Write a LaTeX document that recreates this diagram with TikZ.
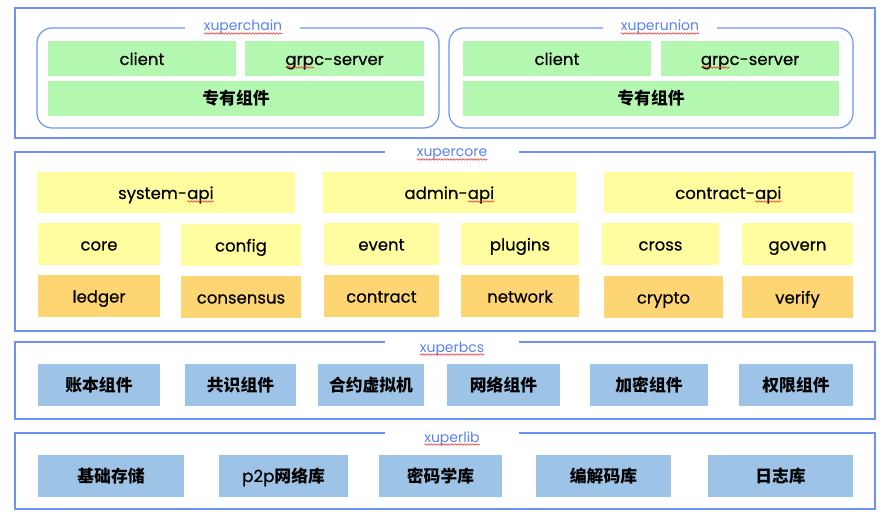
\documentclass[tikz,border=0pt]{standalone}
\usepackage{fontspec}
\setmainfont{Poppins}
\newfontfamily\boxfont{Poppins}[FakeBold=0.5]
\newfontfamily\cjk{Noto Sans CJK SC}
\usetikzlibrary{decorations.pathmorphing}
\definecolor{frameblue}{HTML}{6C92F2}
\definecolor{titleblue}{HTML}{5A82EE}
\definecolor{gfill}{HTML}{B4F7B0}
\definecolor{yfill}{HTML}{FFFD9F}
\definecolor{ofill}{HTML}{FDD673}
\definecolor{bfill}{HTML}{9DC3E6}
\definecolor{squig}{HTML}{E8302A}
\tikzset{
  blkbase/.style={inner sep=0pt,outer sep=0pt,draw=none,text=black,text height=13pt,text depth=0pt,font=\boxfont\fontsize{16.5}{18}\selectfont},
  gbox/.style={blkbase,fill=gfill},
  ybox/.style={blkbase,fill=yfill},
  obox/.style={blkbase,fill=ofill},
  bbox/.style={blkbase,fill=bfill,text height=13.5pt,text depth=1.5pt,font=\cjk\bfseries\fontsize{16.8}{18}\selectfont},
  gcjk/.style={gbox,text height=13.5pt,text depth=1.5pt,font=\cjk\bfseries\fontsize{16.8}{18}\selectfont},
  framel/.style={draw=frameblue,line width=2pt},
  roundl/.style={draw=frameblue,line width=1.2pt,rounded corners=15pt},
  ttl/.style={anchor=base,inner sep=0pt,text=titleblue,font=\fontsize{14}{16}\selectfont},
  sqline/.style={draw=squig,line width=0.55pt,decorate,decoration={snake,amplitude=0.8pt,segment length=3pt}},
  sqtext/.style={inner sep=0pt,outer sep=0pt,draw=none,fill=none,minimum width=0pt,minimum height=0pt,text height=,text depth=}
}
\newcommand\blk[7]{\node[#6,minimum width={(#4-#2)*1pt},minimum height={(#5-#3)*1pt}] (#1) at ({(#2+#4)/2},{(#3+#5)/2}) {#7};}
\newcommand\sq[1]{\tikz[baseline=(sqt.base)]{\node[sqtext] (sqt) {#1};\path[sqline] ([yshift=-2.5pt]sqt.base west) -- ([yshift=-2.5pt]sqt.base east);}}
\begin{document}
\begin{tikzpicture}[x=1pt,y=-1pt]
\useasboundingbox (0,0) rectangle (887,516);
% frames
\path[framel] (875,8) rectangle (15,138);
\path[framel] (519,152) -- (875,152) -- (875,331) -- (15,331) -- (15,152) -- (385,152);
\path[framel] (519,342) -- (875,342) -- (875,419) -- (15,419) -- (15,342) -- (385,342);
\path[framel] (519,433) -- (875,433) -- (875,509) -- (15,509) -- (15,433) -- (385,433);
\path[roundl] (300,28) -- (439,28) -- (439,128) -- (37,128) -- (37,28) -- (185,28);
\path[roundl] (717,28) -- (853,28) -- (853,128) -- (449,128) -- (449,28) -- (603,28);
% titles
\node[ttl] (tchain) at (243,31) {\sq{xuperchain}};
\node[ttl] (tunion) at (660,31) {\sq{xuperunion}};
\node[ttl] (tcore) at (452,157) {\sq{xupercore}};
\node[ttl] (tbcs) at (452,352) {\sq{xuperbcs}};
\node[ttl] (tlib) at (452,442) {\sq{xuperlib}};
% xuperchain
\blk{c1}{48}{41}{236}{76}{gbox}{client}
\blk{c2}{245}{41}{424}{76}{gbox}{\sq{grp}c-server}
\blk{c3}{48}{81}{424}{116}{gcjk}{专有组件}
% xuperunion
\blk{u1}{463}{41}{651}{76}{gbox}{client}
\blk{u2}{661}{41}{839}{76}{gbox}{\sq{grp}c-server}
\blk{u3}{463}{81}{839}{116}{gcjk}{专有组件}
% xupercore
\blk{sysapi}{37}{172}{295}{213}{ybox}{system-\sq{api}}
\blk{admapi}{323}{172}{576}{213}{ybox}{admin-\sq{api}}
\blk{conapi}{604}{172}{853}{213}{ybox}{contract-\sq{api}}
\blk{core}{38}{223}{160}{265}{ybox}{core}
\blk{config}{181}{224}{301}{266}{ybox}{config}
\blk{event}{324}{223}{439}{265}{ybox}{event}
\blk{plugins}{461}{223}{579}{265}{ybox}{plugins}
\blk{cross}{602}{223}{719}{265}{ybox}{cross}
\blk{govern}{742}{223}{853}{265}{ybox}{govern}
\blk{ledger}{38}{275}{160}{317}{obox}{ledger}
\blk{consensus}{181}{276}{301}{318}{obox}{consensus}
\blk{contract}{324}{275}{439}{317}{obox}{contract}
\blk{network}{461}{275}{579}{317}{obox}{network}
\blk{crypto}{604}{276}{723}{318}{obox}{crypto}
\blk{verify}{742}{276}{853}{318}{obox}{verify}
% xuperbcs
\blk{b1}{38}{364}{160}{406}{bbox}{账本组件}
\blk{b2}{185}{364}{296}{406}{bbox}{共识组件}
\blk{b3}{318}{364}{424}{406}{bbox}{合约虚拟机}
\blk{b4}{447}{364}{560}{406}{bbox}{网络组件}
\blk{b5}{590}{364}{708}{406}{bbox}{加密组件}
\blk{b6}{739}{364}{853}{406}{bbox}{权限组件}
% xuperlib
\blk{l1}{38}{455}{184}{497}{bbox}{基础存储}
\blk{l2}{219}{455}{348}{497}{bbox}{{\boxfont\mdseries p2p}网络库}
\blk{l3}{379}{455}{502}{497}{bbox}{密码学库}
\blk{l4}{536}{455}{671}{497}{bbox}{编解码库}
\blk{l5}{708}{455}{853}{497}{bbox}{日志库}
\end{tikzpicture}
\end{document}
